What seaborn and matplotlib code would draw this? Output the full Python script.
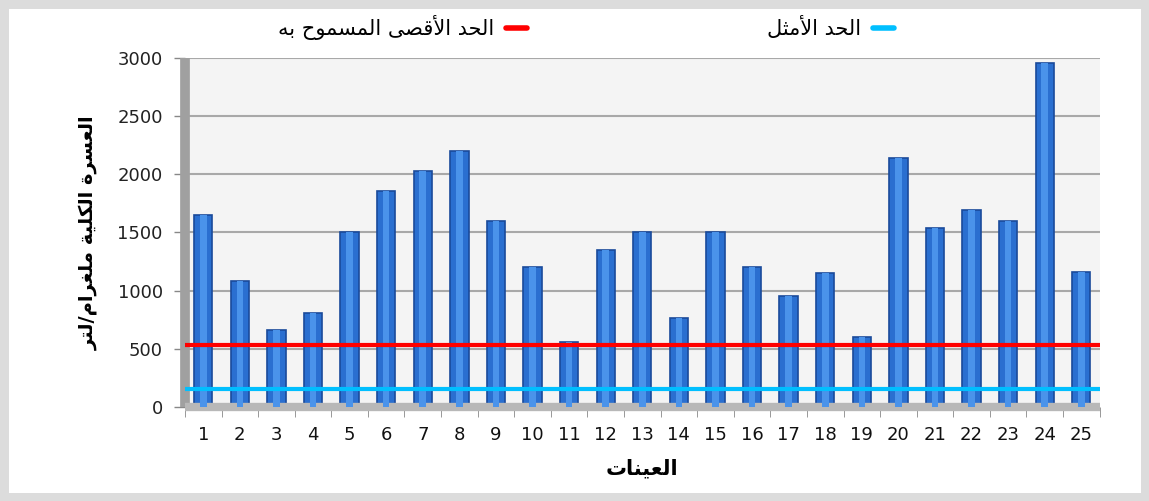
import numpy as np
import pandas as pd
import matplotlib.pyplot as plt
import seaborn as sns
from matplotlib.lines import Line2D

# --- small arabic shaper (no arabic_reshaper here) ---
FORMS = {
    'ا': (0xFE8D, 0xFE8E, None, None), 'أ': (0xFE83, 0xFE84, None, None),
    'ب': (0xFE8F, 0xFE90, 0xFE91, 0xFE92), 'ة': (0xFE93, 0xFE94, None, None),
    'ت': (0xFE95, 0xFE96, 0xFE97, 0xFE98), 'ث': (0xFE99, 0xFE9A, 0xFE9B, 0xFE9C),
    'ح': (0xFEA1, 0xFEA2, 0xFEA3, 0xFEA4), 'د': (0xFEA9, 0xFEAA, None, None),
    'ر': (0xFEAD, 0xFEAE, None, None), 'س': (0xFEB1, 0xFEB2, 0xFEB3, 0xFEB4),
    'ص': (0xFEB9, 0xFEBA, 0xFEBB, 0xFEBC), 'ع': (0xFEC9, 0xFECA, 0xFECB, 0xFECC),
    'غ': (0xFECD, 0xFECE, 0xFECF, 0xFED0), 'ق': (0xFED5, 0xFED6, 0xFED7, 0xFED8),
    'ك': (0xFED9, 0xFEDA, 0xFEDB, 0xFEDC), 'ل': (0xFEDD, 0xFEDE, 0xFEDF, 0xFEE0),
    'م': (0xFEE1, 0xFEE2, 0xFEE3, 0xFEE4), 'ن': (0xFEE5, 0xFEE6, 0xFEE7, 0xFEE8),
    'ه': (0xFEE9, 0xFEEA, 0xFEEB, 0xFEEC), 'و': (0xFEED, 0xFEEE, None, None),
    'ى': (0xFEEF, 0xFEF0, None, None), 'ي': (0xFEF1, 0xFEF2, 0xFEF3, 0xFEF4),
}
LAMALEF = {'ا': (0xFEFB, 0xFEFC), 'أ': (0xFEF7, 0xFEF8)}


def dual(c):
    return c in FORMS and FORMS[c][2] is not None


def ar(text):
    # lam-alef ligatures first
    chars = []
    i = 0
    while i < len(text):
        c = text[i]
        if c == 'ل' and i + 1 < len(text) and text[i + 1] in LAMALEF:
            chars.append(('LA', text[i + 1]))
            i += 2
        else:
            chars.append((c, None))
            i += 1
    out = []
    for k, (c, extra) in enumerate(chars):
        prev = chars[k - 1][0] if k > 0 else None
        nxt = chars[k + 1][0] if k + 1 < len(chars) else None
        joins_prev = prev is not None and (dual(prev))
        if c == 'LA':
            iso, fin = LAMALEF[extra]
            out.append(chr(fin if joins_prev else iso))
            continue
        if c not in FORMS:
            out.append(c)
            continue
        joins_next = dual(c) and nxt is not None and (nxt in FORMS or nxt == 'LA')
        iso, fin, ini, med = FORMS[c]
        if joins_prev and joins_next:
            out.append(chr(med))
        elif joins_prev:
            out.append(chr(fin))
        elif joins_next:
            out.append(chr(ini))
        else:
            out.append(chr(iso))
    return ''.join(out[::-1])


# --- data ---
samples = [str(i) for i in range(1, 26)]
hardness = [1650, 1080, 660, 810, 1500, 1860, 2030, 2200, 1600, 1200,
            560, 1350, 1500, 760, 1500, 1200, 950, 1150, 600, 2140,
            1540, 1690, 1600, 2960, 1160]
max_limit = 530
optimal = 150

label_max = 'الحد الأقصى المسموح به'
label_opt = 'الحد الأمثل'
xlabel = 'العينات'
ylabel = 'العسرة الكلية ملغرام/لتر'

df = pd.DataFrame({'sample': samples, 'hardness': hardness})

sns.set_style("white")
plt.rcParams['font.family'] = ['DejaVu Sans']

fig = plt.figure(figsize=(11.49, 5.01), dpi=100)
fig.patch.set_edgecolor('#dcdcdc')
fig.patch.set_linewidth(12)
ax = fig.add_axes([0.161, 0.188, 0.796, 0.696])
ax.set_facecolor('#f4f4f4')

sns.barplot(data=df, x='sample', y='hardness', color='#2a6fd0', width=0.5,
            edgecolor='#1a4a9a', linewidth=1.2, saturation=1, ax=ax, zorder=2)
sns.barplot(data=df, x='sample', y='hardness', color='#4a93ea', width=0.18,
            linewidth=0, saturation=1, ax=ax, zorder=3)

ax.axhline(max_limit, color='#ff0000', lw=3, zorder=4)
ax.axhline(optimal, color='#00bfff', lw=3, zorder=4)

ax.set_ylim(0, 3000)
ax.set_xlim(-0.5, 24.5)
ax.set_yticks(np.arange(0, 3001, 500))
ax.yaxis.grid(True, color='#a8a8a8', lw=1.5, zorder=0)
ax.set_axisbelow(True)

for s in ['top', 'right']:
    ax.spines[s].set_visible(False)
ax.spines['left'].set_color('#a0a0a0')
ax.spines['left'].set_linewidth(7)
ax.spines['left'].set_capstyle('butt')
ax.spines['bottom'].set_color('#b8b8b8')
ax.spines['bottom'].set_linewidth(6)
ax.spines['bottom'].set_capstyle('butt')

ax.tick_params(axis='y', labelsize=13, length=8, width=1, color='#888888',
               left=True, pad=8, labelcolor='#222222')
ax.tick_params(axis='x', labelsize=13, length=0, pad=14, labelcolor='#111111')
ax.set_xticks(np.arange(-0.5, 25, 1), minor=True)
ax.tick_params(axis='x', which='minor', length=7, color='#888888', bottom=True)

ax.set_xlabel(ar(xlabel), fontsize=15, fontweight='bold', labelpad=10, color='black')
ax.set_ylabel(ar(ylabel), fontsize=14, fontweight='bold', labelpad=14, color='black')

handles = [Line2D([], [], color='#ff0000', lw=4),
           Line2D([], [], color='#00bfff', lw=4)]
fig.legend(handles, [ar(label_max), ar(label_opt)], ncol=2, markerfirst=False,
           frameon=False, loc='center', bbox_to_anchor=(0.51, 0.945),
           fontsize=15, handlelength=1.0, handletextpad=0.6, columnspacing=11.5,
           labelcolor='black')

fig.savefig('out.png', dpi=100)
